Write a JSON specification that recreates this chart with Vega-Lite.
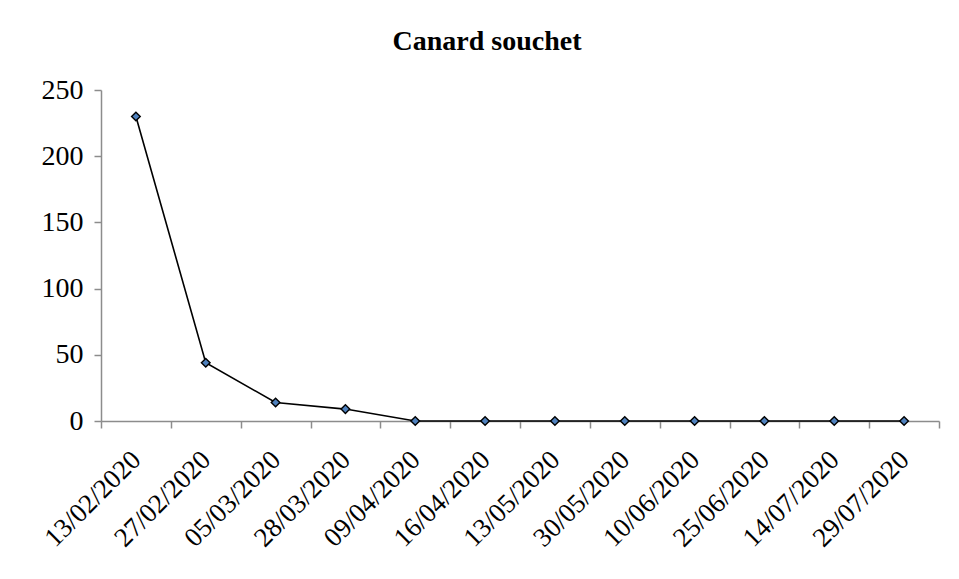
{
  "$schema": "https://vega.github.io/schema/vega-lite/v6.json",
  "width": 838,
  "height": 331,
  "autosize": {"type": "none"},
  "padding": {"left": 101, "top": 90, "right": 20, "bottom": 158},
  "background": "white",
  "config": {
    "view": {"stroke": null},
    "font": "Liberation Serif"
  },
  "title": {
    "text": "Canard souchet",
    "font": "Liberation Serif",
    "fontSize": 28,
    "fontWeight": "bold",
    "color": "black",
    "anchor": "middle",
    "dx": -33,
    "offset": 20
  },
  "data": {
    "values": [
      {"date": "13/02/2020", "count": 230},
      {"date": "27/02/2020", "count": 44},
      {"date": "05/03/2020", "count": 14},
      {"date": "28/03/2020", "count": 9},
      {"date": "09/04/2020", "count": 0},
      {"date": "16/04/2020", "count": 0},
      {"date": "13/05/2020", "count": 0},
      {"date": "30/05/2020", "count": 0},
      {"date": "10/06/2020", "count": 0},
      {"date": "25/06/2020", "count": 0},
      {"date": "14/07/2020", "count": 0},
      {"date": "29/07/2020", "count": 0}
    ]
  },
  "encoding": {
    "x": {
      "field": "date",
      "type": "ordinal",
      "sort": null,
      "scale": {"type": "band", "paddingInner": 0, "paddingOuter": 0},
      "axis": {
        "title": null,
        "labelAngle": -45,
        "labelFont": "Liberation Serif",
        "labelFontSize": 27,
        "labelColor": "black",
        "labelPadding": 18,
        "labelOffset": -9,
        "tickBand": "extent",
        "tickSize": 7,
        "tickColor": "#8c8c8c",
        "domainColor": "#8c8c8c",
        "domainWidth": 1.5,
        "tickWidth": 1.5,
        "grid": false
      }
    },
    "y": {
      "field": "count",
      "type": "quantitative",
      "scale": {"domain": [0, 250], "nice": false},
      "axis": {
        "title": null,
        "values": [0, 50, 100, 150, 200, 250],
        "labelFont": "Liberation Serif",
        "labelFontSize": 28,
        "labelColor": "black",
        "labelPadding": 11,
        "tickSize": 7,
        "tickColor": "#8c8c8c",
        "domainColor": "#8c8c8c",
        "domainWidth": 1.5,
        "tickWidth": 1.5,
        "grid": false
      }
    }
  },
  "layer": [
    {
      "mark": {"type": "line", "color": "black", "strokeWidth": 1.6}
    },
    {
      "mark": {
        "type": "point",
        "shape": "diamond",
        "filled": true,
        "fill": "#4f81bd",
        "stroke": "black",
        "strokeWidth": 1.4,
        "size": 75,
        "opacity": 1
      }
    }
  ]
}
